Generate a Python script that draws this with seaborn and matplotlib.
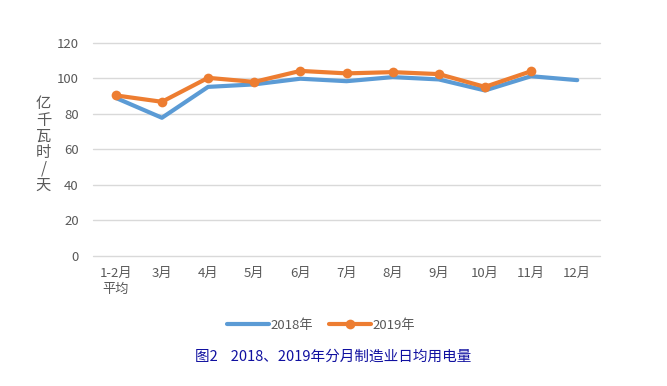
import pandas as pd
import seaborn as sns
import matplotlib.pyplot as plt

months = ['1-2月\n平均', '3月', '4月', '5月', '6月', '7月', '8月', '9月', '10月', '11月', '12月']
power_2018 = [89.0, 77.8, 95.2, 96.6, 99.8, 98.4, 100.7, 99.4, 93.2, 101.2, 99.0]
power_2019 = [90.4, 86.8, 100.3, 98.0, 104.2, 102.8, 103.5, 102.4, 95.2, 104.0]
y_ticks = [0, 20, 40, 60, 80, 100, 120]

sns.set_theme(style='white')
plt.rcParams['font.family'] = ['Noto Sans CJK SC', 'DejaVu Sans']

df18 = pd.DataFrame({'x': range(len(power_2018)), 'v': power_2018})
df19 = pd.DataFrame({'x': range(len(power_2019)), 'v': power_2019})

fig = plt.figure(figsize=(6.67, 3.86), dpi=100)
ax = fig.add_axes([0.139, 0.337, 0.761, 0.552])

sns.lineplot(data=df18, x='x', y='v', ax=ax, color='#5B9BD5', linewidth=3,
             label='2018年', sort=False)
sns.lineplot(data=df19, x='x', y='v', ax=ax, color='#ED7D31', linewidth=3,
             marker='o', markersize=7, markeredgewidth=0, label='2019年', sort=False)

ax.set_xlim(-0.5, len(months) - 0.5)
ax.set_ylim(0, 120)
ax.set_yticks(y_ticks)
ax.set_xticks(range(len(months)))
ax.set_xticklabels(months, fontsize=9.5, color='#595959', linespacing=1.3)
ax.tick_params(axis='y', labelsize=9.5, labelcolor='#595959', length=0, pad=10)
ax.tick_params(axis='x', length=0, pad=8)
ax.yaxis.grid(True, color='#D9D9D9', linewidth=1)
for gl in ax.get_ygridlines():
    gl.set_clip_on(False)
ax.set_axisbelow(True)
for s in ax.spines.values():
    s.set_visible(False)
ax.set_xlabel('')
ax.set_ylabel('')

fig.text(0.065, 0.625, '\n'.join('亿千瓦时/天'), fontsize=11, color='#595959',
         ha='center', va='center', linespacing=0.95)

ax.legend(loc='center', bbox_to_anchor=(0.45, -0.325), ncol=2, frameon=False,
          fontsize=9.5, handlelength=3.2, columnspacing=1.2, handletextpad=0.1,
          labelcolor='#595959')

fig.text(0.5, 0.075, '图2    2018、2019年分月制造业日均用电量', fontsize=10.5,
         color='#1010A0', ha='center', va='center')

fig.savefig('out.png', dpi=100)
